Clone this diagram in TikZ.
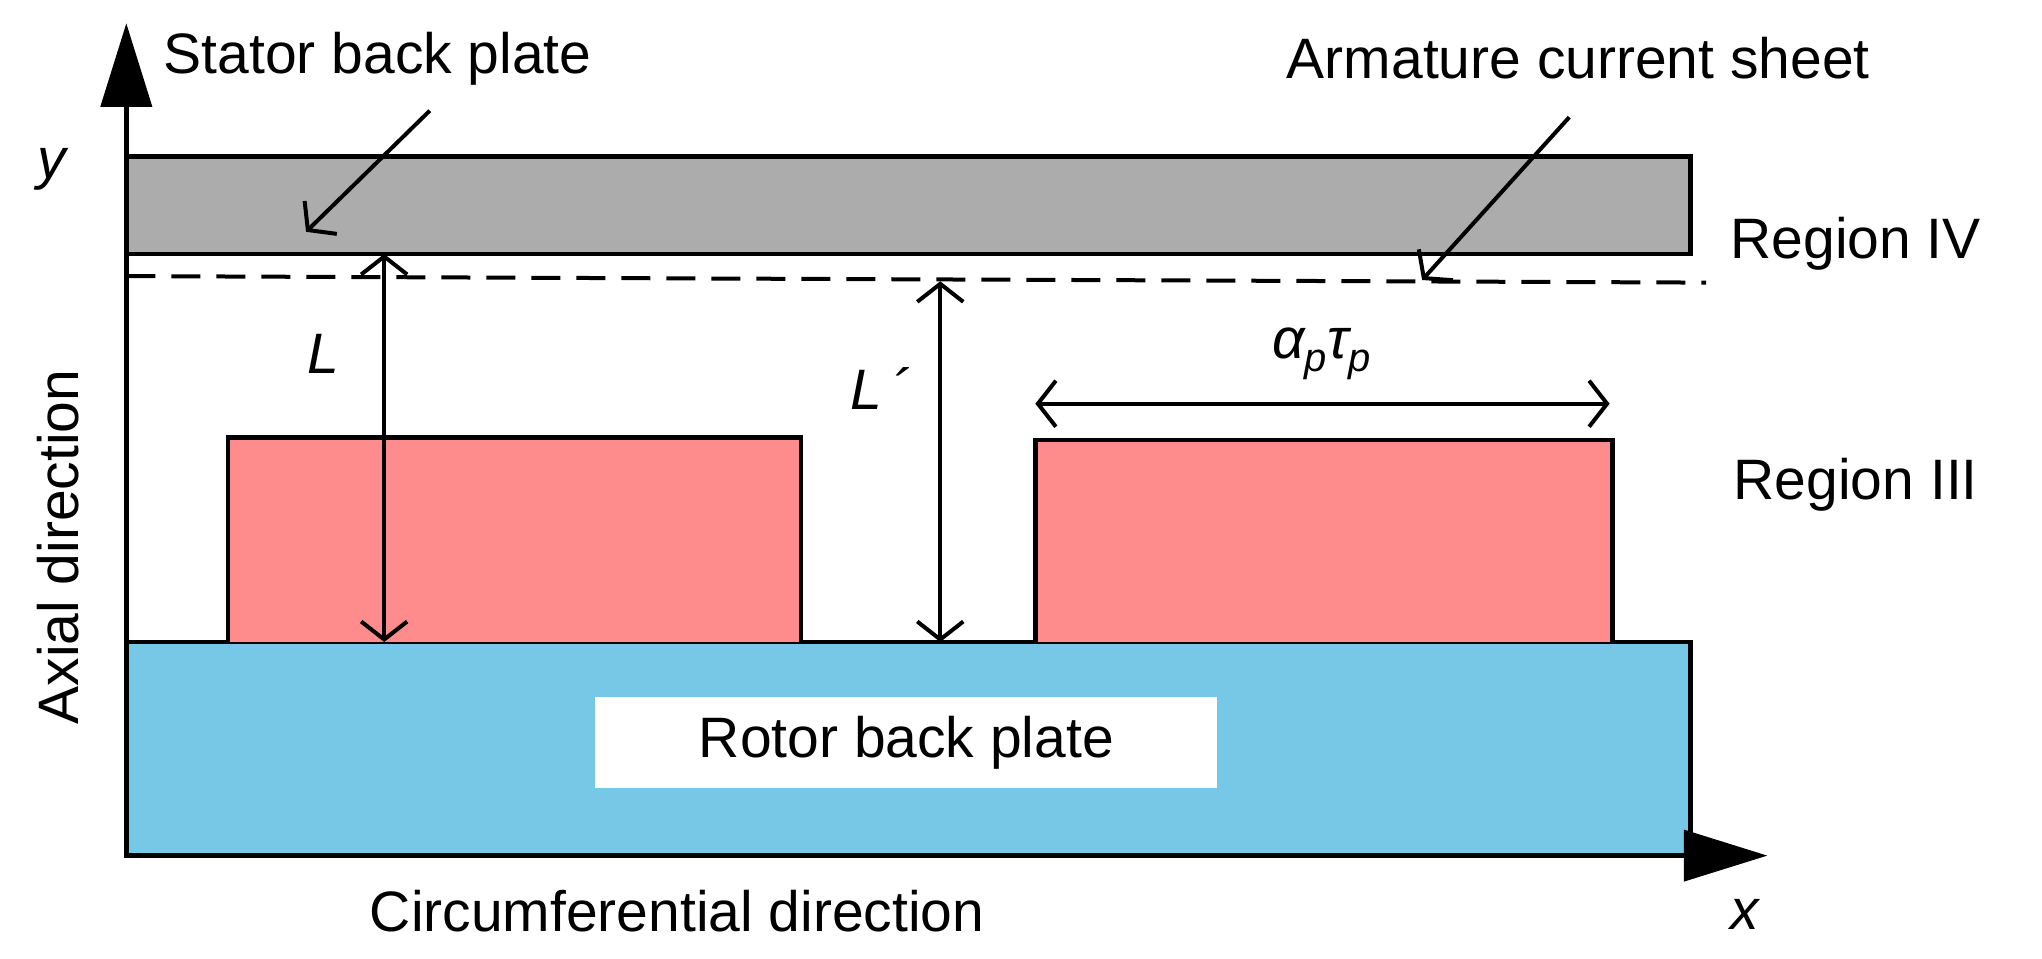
\documentclass[tikz,border=0pt]{standalone}
\usepackage{fontspec}
\setmainfont{Liberation Sans}
\usetikzlibrary{arrows.meta,patterns}
\begin{document}
\begin{tikzpicture}[x=1.3023pt,y=-1.3023pt,
  lbl/.style={font=\fontsize{57}{66}\selectfont,inner sep=0pt},
  ilbl/.style={font=\fontsize{57}{66}\selectfont\itshape,inner sep=0pt},
  dim/.style={line width=4pt,{Straight Barb[length=18pt,width=46pt]}-{Straight Barb[length=18pt,width=46pt]}},
  ptr/.style={line width=4pt,-{Straight Barb[length=18pt,width=46pt]}},
  box/.style={draw=black,line width=4.5pt}]
\useasboundingbox (0,0) rectangle (1568,736);
% plates and magnets
\fill[gray!65] (97,120) rectangle (1298,195);
\draw[box] (97,120) -- (1298,120) -- (1298,195) -- (97,195);
\fill[cyan!50!white!85!teal] (97,493) rectangle (1298,657);
\draw[box] (97,493) rectangle (1298,657);
\node[fill=white,minimum width=622pt,minimum height=91pt,lbl] (rotor) at (696,570) {Rotor back plate};
\fill[red!45!white] (175,336) rectangle (615,493);
\fill[red!45!white] (795,338) rectangle (1238,493);
\draw[box] (175,493) |- (615,336) -- (615,493);
\draw[box] (795,493) |- (1238,338) -- (1238,493);
\draw[line width=4pt,dash pattern=on 29pt off 16pt] (97,212) -- (1310,217);
% axes
\coordinate (o) at (97,657);
\coordinate (yt) at (97,18);
\coordinate (xt) at (1357,657);
\draw[line width=4.5pt] (o) -- (97,70);
\fill (yt) -- (77,82) -- (117,82) -- cycle;
\draw[line width=4.5pt] (o) -- (1300,657);
\fill (xt) -- (1293,637) -- (1293,677) -- cycle;
% dimensions
\coordinate (L1) at (295,195); \coordinate (L2) at (295,493);
\draw[dim] (L1) -- (L2);
\coordinate (M1) at (722,216); \coordinate (M2) at (722,493);
\draw[dim] (M1) -- (M2);
\coordinate (A1) at (795,310); \coordinate (A2) at (1236,310);
\draw[dim] (A1) -- (A2);
\node[ilbl] (L) at (248,272) {L};
\node[ilbl] (Lp) at (676,298) {L\,´};
\node[ilbl] (ap) at (1015,272) {α\textsubscript{p}τ\textsubscript{p}};
% labels
\node[lbl] (stator) at (290,45) {Stator back plate};
\coordinate (s2) at (235,178);
\draw[ptr] (330,85) -- (s2);
\node[lbl] (arm) at (1212,45) {Armature current sheet};
\coordinate (a2) at (1092,215);
\draw[ptr] (1205,90) -- (a2);
\node[lbl] (r4) at (1425,187) {Region IV};
\node[lbl] (r3) at (1425,372) {Region III};
\node[ilbl] (y) at (40,130) {y};
\node[ilbl] (x) at (1340,702) {x};
\node[lbl,rotate=90] (ax) at (45,420) {Axial direction};
\node[lbl] (circ) at (520,700) {Circumferential direction};
\end{tikzpicture}
\end{document}
